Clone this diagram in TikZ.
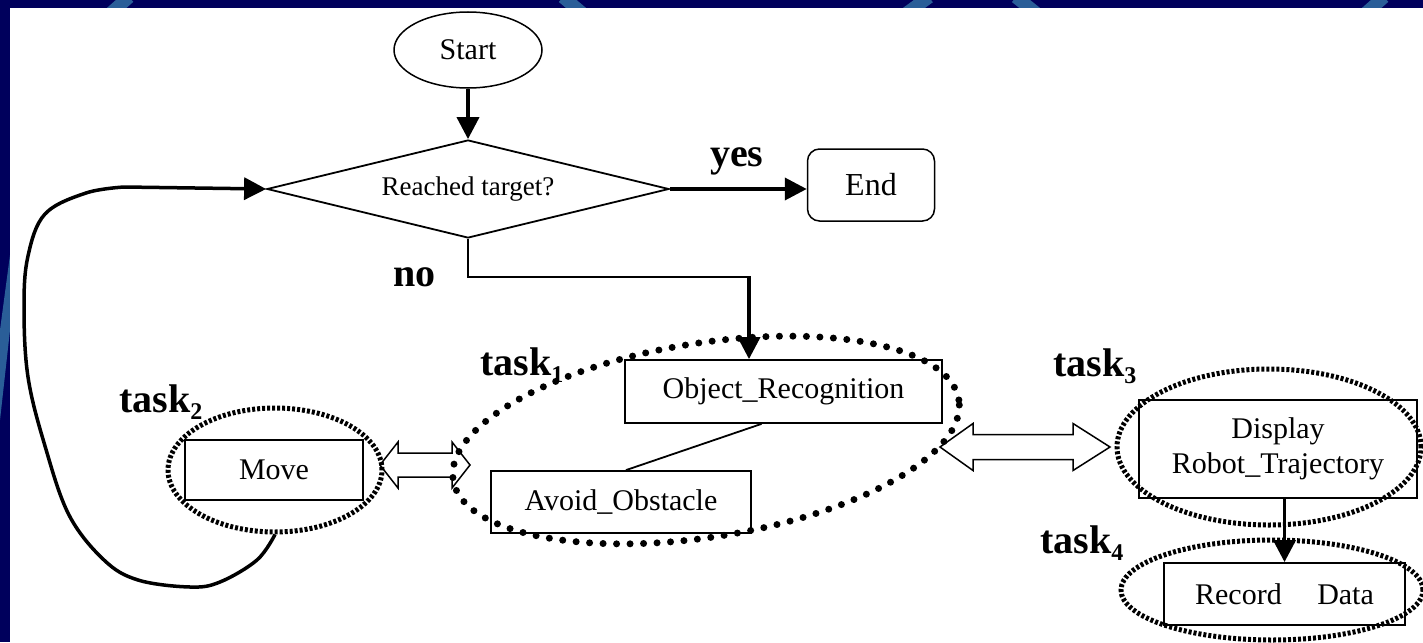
\documentclass[tikz,border=0pt]{standalone}
\usepackage{fontspec}
\setmainfont{Liberation Serif}
\usetikzlibrary{shapes.geometric, arrows.meta, calc}

\definecolor{navy}{RGB}{0,0,92}
\definecolor{streak}{RGB}{42,94,152}

\begin{document}
\begin{tikzpicture}[x=1pt, y=-1pt,
  every node/.style={font=\fontsize{30}{32}\selectfont},
  box/.style={draw, line width=1.8pt, inner sep=0pt},
  thickline/.style={line width=3.8pt},
  thinline/.style={line width=1.8pt},
  headtip/.style={-{Triangle[length=22pt,width=22pt]}},
  bigdots/.style={draw, line width=7pt, line cap=round, dash pattern=on 0pt off 13.5pt},
  smalldots/.style={draw, line width=5pt, dash pattern=on 3pt off 2pt},
  tasklabel/.style={font=\fontsize{40}{40}\selectfont\bfseries, anchor=base west, inner sep=0pt},
  blockarr/.style={draw, line width=1.5pt, line join=miter}
]
\useasboundingbox (0,0) rectangle (1423,642);

% slide background with light streaks in the border
\fill[navy] (0,0) rectangle (1423,642);
\begin{scope}[streak, line width=13pt]
  \draw (129,-3) -- (111,13);
  \draw (563,-3) -- (582,13);
  \draw (929,-3) -- (907,13);
  \draw (1016,-3) -- (1036,13);
  \draw (1384,-3) -- (1366,13);
\end{scope}
\fill[streak] (10,255) -- (10,330) -- (0,420) -- (0,330) -- cycle;
\fill[white] (10,8) rectangle (1423,642);

% flow nodes
\node[draw, ellipse, line width=1.5pt, minimum width=148, minimum height=76, inner sep=0pt] (start) at (468,50) {Start};
\node[draw, diamond, line width=1.8pt, aspect=4.1, minimum width=402, minimum height=98, inner sep=0pt,
      font=\fontsize{27}{29}\selectfont] (dec) at (468,189) {Reached target?};
\node[draw, rounded corners=12pt, line width=1.5pt, minimum width=127, minimum height=72, inner sep=0pt,
      font=\fontsize{32}{34}\selectfont] (end) at (871,185) {End};

% task boxes
\node[box, minimum width=317, minimum height=63] (obj) at (783.5,391.5) {Object\_Recognition};
\node[box, minimum width=260, minimum height=62] (avoid) at (621,502) {Avoid\_Obstacle};
\node[box, minimum width=178, minimum height=60] (move) at (274,470) {Move};
\node[box, minimum width=278, minimum height=98, align=center, font=\fontsize{30}{35}\selectfont] (disp) at (1278,449) {Display\\Robot\_Trajectory};
\node[box, minimum width=241, minimum height=62] (rec) at (1284.5,594) {Record~\hspace{28pt}Data};

% hollow double arrows between task groups
\draw[blockarr, shift={(380,465)}] (0,0) -- (18,-23) -- (18,-12) -- (72,-12) -- (72,-23) -- (90,0)
  -- (72,23) -- (72,12) -- (18,12) -- (18,23) -- cycle;
\draw[blockarr, shift={(940,447)}] (0,0) -- (33,-23.5) -- (33,-12.5) -- (133,-12.5) -- (133,-23.5) -- (170,0)
  -- (133,23.5) -- (133,12.5) -- (33,12.5) -- (33,23.5) -- cycle;

% dotted task groups
\node[bigdots, ellipse, minimum width=512, minimum height=194, rotate=9, inner sep=0pt] (t1) at (706,440) {};
\node[smalldots, ellipse, minimum width=214, minimum height=124, inner sep=0pt] (t2) at (275,470) {};
\node[smalldots, ellipse, minimum width=304, minimum height=156, inner sep=0pt] (t3) at (1269,447) {};
\node[smalldots, ellipse, minimum width=302, minimum height=100, inner sep=0pt] (t4) at (1272,590) {};

% connectors
\draw[thickline, headtip] (start.south) -- (dec.north);
\draw[thickline, headtip] (dec.east) -- (dec.east -| end.west);
\coordinate (nocorner) at (749,277);
\draw[thinline] (dec.south) |- (nocorner);
\draw[thickline, headtip] ($(nocorner)+(0,-1)$) -- (nocorner |- obj.north);
\draw[thinline] ($(obj.south)+(-22,0)$) -- ($(avoid.north)+(5,0)$);
\draw[thickline, headtip] (disp.south -| rec.north) -- (rec.north);
\draw[line width=3.5pt, headtip] plot[smooth, tension=0.6] coordinates {
  (t2.south) (257,560) (220,582) (190,587) (138,580) (104,560) (69,515) (45,446)
  (28,377) (24,307) (28,256) (45,214) (86,193) (124,187)} -- (dec.west);

% labels
\node[tasklabel] (yeslbl) at (710,166) {yes};
\node[tasklabel] (nolbl) at (393,286) {no};
\node[tasklabel] (l1) at (480,375) {task\raisebox{-7pt}{\fontsize{24}{24}\selectfont 1}};
\node[tasklabel] (l2) at (119,412) {task\raisebox{-7pt}{\fontsize{24}{24}\selectfont 2}};
\node[tasklabel] (l3) at (1053,376) {task\raisebox{-7pt}{\fontsize{24}{24}\selectfont 3}};
\node[tasklabel] (l4) at (1040,553) {task\raisebox{-7pt}{\fontsize{24}{24}\selectfont 4}};
\end{tikzpicture}
\end{document}
